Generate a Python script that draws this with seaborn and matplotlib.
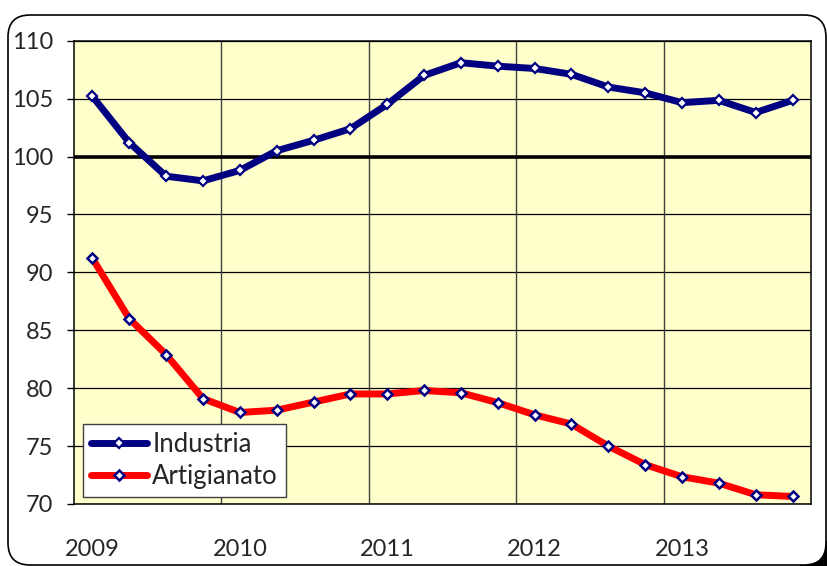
"""Industria vs Artigianato index, quarterly 2009-2013"""
import pandas as pd
import matplotlib.pyplot as plt
from matplotlib.patches import FancyBboxPatch, Rectangle
import seaborn as sns

# data (quarterly, 2009 Q1 .. 2013 Q4)
quarters = list(range(20))
year_labels = ['2009', '2010', '2011', '2012', '2013']
industria = [105.2, 101.2, 98.3, 97.9, 98.8, 100.5, 101.4, 102.4, 104.5, 107.0,
             108.1, 107.8, 107.6, 107.1, 106.0, 105.5, 104.65, 104.85, 103.8, 104.85]
artigianato = [91.2, 86.0, 82.9, 79.1, 77.9, 78.1, 78.8, 79.5, 79.5, 79.8,
               79.6, 78.75, 77.7, 76.9, 75.0, 73.4, 72.35, 71.8, 70.8, 70.65]
y_ticks = [70, 75, 80, 85, 90, 95, 100, 105, 110]

df = pd.DataFrame({'q': quarters, 'Industria': industria, 'Artigianato': artigianato})

sns.set_style("white")
plt.rcParams['font.family'] = ['Lato', 'DejaVu Sans']

fig = plt.figure(figsize=(8.27, 5.66), dpi=100)
fig.patch.set_facecolor('white')

# rounded chart-area frame (and the dark corner bleeding in at bottom right)
fig.patches.append(Rectangle((8.0, 0.0), 0.27, 0.25, transform=fig.dpi_scale_trans,
                             facecolor='black', edgecolor='none', zorder=-2))
fig.patches.append(FancyBboxPatch((0.08, 0.01), 8.18, 5.50,
                                  boxstyle="round,pad=0,rounding_size=0.22",
                                  transform=fig.dpi_scale_trans,
                                  facecolor='white', edgecolor='black', lw=1.2, zorder=-1))

ax = fig.add_axes([74 / 827, 1 - 504 / 566, (811 - 74) / 827, (504 - 40.7) / 566])
ax.set_facecolor('#FFFFCC')

# grid
for y in y_ticks:
    ax.axhline(y, color='black', lw=0.9, zorder=1)
for x in [3.5, 7.5, 11.5, 15.5]:
    ax.axvline(x, color='#404040', lw=1.0, zorder=1)
ax.axhline(100, color='black', lw=2.6, zorder=2)

navy = '#000080'
sns.lineplot(data=df, x='q', y='Industria', ax=ax, color=navy, lw=5,
             marker='D', markersize=5, markerfacecolor='white',
             markeredgecolor=navy, markeredgewidth=1.6, label='Industria', zorder=3)
sns.lineplot(data=df, x='q', y='Artigianato', ax=ax, color='#FF0000', lw=5,
             marker='D', markersize=5.5, markerfacecolor='white',
             markeredgecolor=navy, markeredgewidth=1.8, label='Artigianato', zorder=3)

ax.set_xlim(-0.5, 19.5)
ax.set_ylim(70, 110)
ax.set_yticks(y_ticks)
ax.set_xticks([0, 4, 8, 12, 16])
ax.set_xticklabels(year_labels)
ax.set_xlabel('')
ax.set_ylabel('')
ax.tick_params(axis='y', which='major', direction='out', length=5, width=1,
               color='black', pad=10, labelsize=17, left=True)
ax.tick_params(axis='x', length=0, pad=25, labelsize=17)
for s in ax.spines.values():
    s.set_color('black')
    s.set_linewidth(1.1)
    s.set_visible(True)

leg = ax.legend(loc='lower left', bbox_to_anchor=(0.012, 0.015), borderaxespad=0,
                fancybox=False, framealpha=1, edgecolor='#404040', fontsize=18.5,
                handlelength=2.2, handletextpad=0.2, labelspacing=0.3,
                borderpad=0.3)
leg.get_frame().set_linewidth(1.0)

fig.savefig('out.png', dpi=100)
